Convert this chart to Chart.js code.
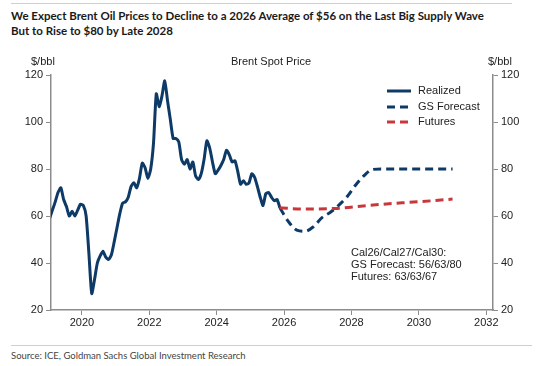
<!DOCTYPE html>
<html lang="en">
  <head>
    <meta charset="UTF-8" />
    <title>Brent Spot Price</title>
    <script src="https://cdn.jsdelivr.net/npm/chart.js@4.4.1/dist/chart.umd.min.js"></script>
    <style>
      body { margin: 0; width: 543px; height: 366px; background: #fff; position: relative; overflow: hidden;
             font-family: 'Liberation Sans', Arial, sans-serif; color: #222; }
      .rule { position: absolute; height: 1px; background: #cfcfcf; }
      #title { position: absolute; left: 11px; top: 8px; font-family: Lato, sans-serif; font-weight: 700;
               font-size: 11.5px; line-height: 15px; color: #1a1a1a; white-space: nowrap; }
      #source { position: absolute; left: 11px; top: 350px; font-family: Lato, sans-serif; font-size: 9.5px; color: #444; }
      .lbl { position: absolute; font-size: 11px; line-height: 12px; white-space: nowrap; }
      #box { position: absolute; left: 0; top: 50px; width: 543px; height: 290px; }
      #legend { position: absolute; left: 386px; top: 83px; font-size: 11px; }
      #legend div { height: 15.5px; line-height: 15px; }
      #legend svg { vertical-align: middle; margin-right: 6px; }
    </style>
  </head>
  <body>
    <div class="rule" style="left:11px;top:3px;width:501px;"></div>
    <div id="title">We Expect Brent Oil Prices to Decline to a 2026 Average of $56 on the Last Big Supply Wave<br>But to Rise to $80 by Late 2028</div>

    <div id="box"><canvas id="myChart"></canvas></div>

    <div class="lbl" style="left:31px;top:55px;">$/bbl</div>
    <div class="lbl" style="left:231px;top:55px;">Brent Spot Price</div>
    <div class="lbl" style="left:488px;top:55px;">$/bbl</div>

    <div id="legend">
      <div><svg width="26" height="4"><line x1="1" y1="2" x2="25" y2="2" stroke="#0d3a66" stroke-width="3"/></svg>Realized</div>
      <div><svg width="26" height="4"><line x1="1" y1="2" x2="25" y2="2" stroke="#0d3a66" stroke-width="3" stroke-dasharray="8,5"/></svg>GS Forecast</div>
      <div><svg width="26" height="4"><line x1="1" y1="2" x2="25" y2="2" stroke="#c8383a" stroke-width="3" stroke-dasharray="8,5"/></svg>Futures</div>
    </div>

    <div class="lbl" style="left:351px;top:246px;">Cal26/Cal27/Cal30:<br>GS Forecast: 56/63/80<br>Futures: 63/63/67</div>

    <div class="rule" style="left:11px;top:345px;width:521px;"></div>
    <div id="source">Source: ICE, Goldman Sachs Global Investment Research</div>

    <script>
    // monthly Brent, Jan..Dec
    const brent2019 = [59, 62.5, 66, 70, 72, 67, 64, 60, 62, 60, 62.5, 65];
    const brent2020 = [64.5, 60, 44, 27, 33, 40, 43, 45, 42.5, 41.5, 43.5, 49];
    const brent2021 = [55, 61, 65.5, 66, 68, 72.5, 74.2, 72, 76, 82.5, 80.5, 76];
    const brent2022 = [80, 91, 112, 106.5, 111, 117.5, 109, 101, 93, 93, 91.5, 84];
    const brent2023 = [82, 84, 80, 83, 77, 75.5, 78, 84, 92, 89, 83, 78];
    const brent2024 = [79.5, 81.5, 84, 88, 86, 83, 83.5, 79, 73.5, 75, 73.5, 74];
    const brent2025 = [78, 76.5, 72.5, 68, 64.5, 69.5, 70, 68, 66.5, 67, 63.5];

    const gsDates  = [2025.875, 2026.125, 2026.375, 2026.625, 2026.875, 2027.125, 2027.375, 2027.625, 2027.875, 2028.125, 2028.375, 2028.625, 2028.875, 2031];
    const gsPrices = [63.5, 57.7, 54, 53.5, 55.5, 59.3, 61.6, 64.6, 68.3, 73.2, 77.2, 79.8, 80, 80];

    const futDates  = [2025.875, 2026.5, 2027.5, 2028.5, 2029.5, 2030.5, 2031];
    const futPrices = [63.5, 63, 63.2, 64.5, 65.6, 66.6, 67.2];

    const years = [2019, 2020, 2021, 2022, 2023, 2024, 2025];
    const realized = [];
    [brent2019, brent2020, brent2021, brent2022, brent2023, brent2024, brent2025].forEach((arr, k) => {
      arr.forEach((v, i) => realized.push({ x: years[k] + (i + 0.5) / 12, y: v }));
    });
    const pts = (xs, ys) => xs.map((x, i) => ({ x: x, y: ys[i] }));

    const navy = '#0d3a66';
    const red = '#c8383a';
    const axisCol = '#8c8c8c';

    Chart.defaults.font.family = "'Liberation Sans', Arial, sans-serif";
    Chart.defaults.font.size = 11;
    Chart.defaults.color = '#222';

    const yAxis = (pos, w) => ({
      position: pos, min: 20, max: 120,
      ticks: { stepSize: 20, padding: 3 },
      grid: { drawOnChartArea: false, tickLength: 5, color: axisCol },
      border: { color: axisCol, width: 1.5 },
      afterFit: s => { s.width = w; }
    });

    const ctx = document.getElementById('myChart').getContext('2d');
    const myChart = new Chart(ctx, {
      type: 'line',
      data: {
        datasets: [
          { label: 'Futures', data: pts(futDates, futPrices), borderColor: red, borderWidth: 3,
            borderDash: [8, 5], pointRadius: 0, cubicInterpolationMode: 'monotone', fill: false },
          { label: 'GS Forecast', data: pts(gsDates, gsPrices), borderColor: navy, borderWidth: 3,
            borderDash: [8, 5], pointRadius: 0, cubicInterpolationMode: 'monotone', fill: false },
          { label: 'Realized', data: realized, borderColor: navy, borderWidth: 3,
            pointRadius: 0, tension: 0.2, fill: false }
        ]
      },
      options: {
        responsive: true, maintainAspectRatio: false, animation: false,
        layout: { padding: { top: 25, left: 0, right: 0, bottom: 0 } },
        plugins: { legend: { display: false }, tooltip: { enabled: false } },
        scales: {
          x: {
            type: 'linear', min: 2019.083, max: 2032.2,
            ticks: { stepSize: 2, includeBounds: false, autoSkip: false, maxRotation: 0, padding: 1,
                     callback: v => String(v) },
            grid: { drawOnChartArea: false, tickLength: 5, color: axisCol },
            border: { color: axisCol, width: 1.5 },
            afterFit: s => { s.height = 30; }
          },
          y: yAxis('left', 51),
          y2: Object.assign(yAxis('right', 50), { display: true })
        }
      }
    });
    </script>
  </body>
</html>
